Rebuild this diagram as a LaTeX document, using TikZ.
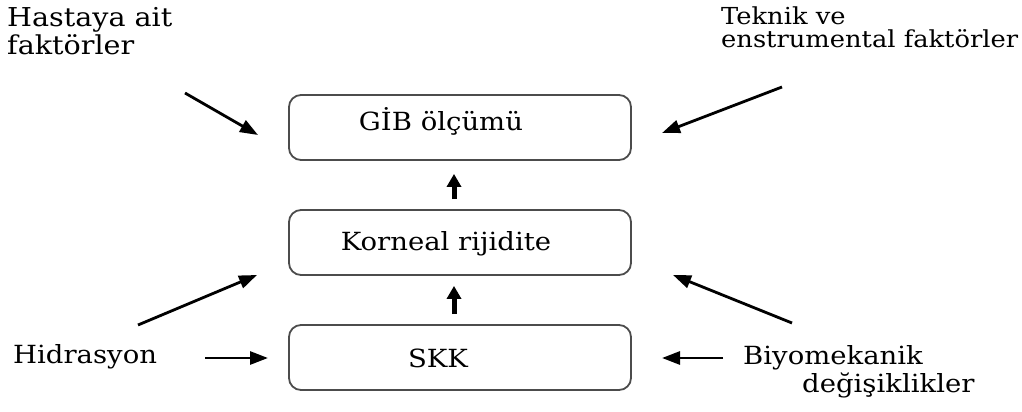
\documentclass[tikz,border=0pt]{standalone}
\usepackage{fontspec}
\setmainfont{DejaVu Serif}[FakeStretch=1.1]
\usetikzlibrary{arrows.meta}
\begin{document}
\begin{tikzpicture}[x=1pt,y=-1pt,
  box/.style={draw=black!70, line width=1.8pt, rounded corners=12pt,
    minimum width=342pt, minimum height=65pt, inner sep=0pt},
  lbl/.style={font=\fontsize{25}{28}\selectfont, inner sep=0pt, align=left},
  arr/.style={-{Triangle[length=18pt,width=13pt]}, line width=2.8pt},
  uparr/.style={-{Triangle[length=13pt,width=14pt]}, line width=5pt}]
\useasboundingbox (0,0) rectangle (1022,412);
% boxes
\node[box] (gib) at (460,127.5) {};
\node[box] (kor) at (460,242.5) {};
\node[box] (skk) at (460,357.5) {};
\node[lbl, anchor=base] (gibt) at (441,130) {GİB ölçümü};
\node[lbl, anchor=base] (kort) at (446,250) {Korneal rijidite};
\node[lbl, anchor=base] (skkt) at (438,367) {SKK};
% up arrows
\draw[uparr] ([xshift=-6pt,yshift=10pt]kor.north) -- ([xshift=-6pt,yshift=-13pt]gib.south);
\draw[uparr] ([xshift=-6pt,yshift=10pt]skk.north) -- ([xshift=-6pt,yshift=-10pt]kor.south);
% outer labels
\node[lbl, anchor=base west, font=\fontsize{26}{28}\selectfont] (hasta) at (7,55) {Hastaya ait\\faktörler};
\node[lbl, anchor=base west, font=\fontsize{23.4}{23.5}\selectfont] (tek) at (721,48) {Teknik ve\\enstrumental faktörler};
\node[lbl, anchor=base west] (hid) at (13,363) {Hidrasyon};
\node[lbl, anchor=base west] (biyo) at (743,392) {Biyomekanik\\\hspace*{59pt}değişiklikler};
% arrow end coordinates
\coordinate (a1s) at (185,93);  \coordinate (a1e) at (258,135);
\coordinate (a2s) at (782,87);  \coordinate (a2e) at (662,133);
\coordinate (a3s) at (138,325); \coordinate (a3e) at (257,275);
\coordinate (a4s) at (792,323); \coordinate (a4e) at (673,275);
\coordinate (a5s) at (205,358); \coordinate (a5e) at (268,358);
\coordinate (a6s) at (723,358); \coordinate (a6e) at (662,358);
\draw[arr] (a1s) -- (a1e);
\draw[arr] (a2s) -- (a2e);
\draw[arr] (a3s) -- (a3e);
\draw[arr] (a4s) -- (a4e);
\draw[arr] (a5s) -- (a5e);
\draw[arr] (a6s) -- (a6e);
\end{tikzpicture}
\end{document}
